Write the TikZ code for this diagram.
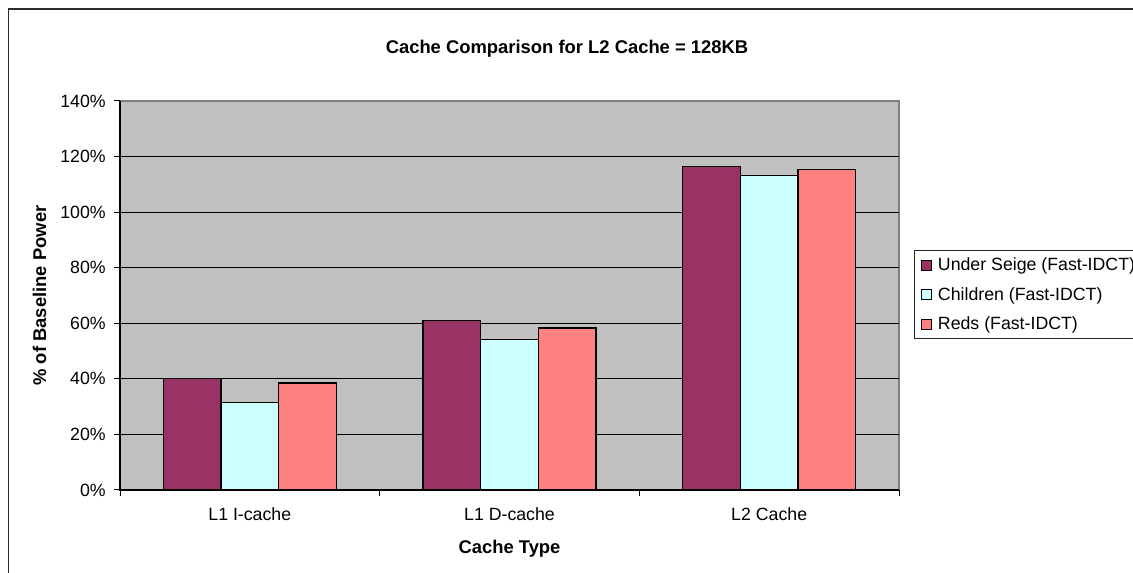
\documentclass[tikz,border=0pt]{standalone}
\usepackage{fontspec}
\setmainfont{Liberation Sans}
\usepackage{tikz}
\usetikzlibrary{positioning}
\definecolor{plotgray}{RGB}{192,192,192}
\definecolor{plotedge}{RGB}{128,128,128}
\definecolor{seigeplum}{RGB}{153,51,102}
\definecolor{childcyan}{RGB}{204,255,255}
\definecolor{redssalmon}{RGB}{255,128,128}
\definecolor{framegray}{RGB}{45,45,45}
\tikzset{
  barbox/.style    = {draw=black, line width=0.9pt},
  gridline/.style  = {draw=black, line width=0.75pt},
  ticklabel/.style = {font=\fontsize{13.3}{15}\selectfont, inner sep=0pt},
  axistitle/.style = {font=\bfseries\fontsize{13.8}{16}\selectfont, inner sep=0pt},
  legendkey/.style = {rectangle, draw=black, line width=0.75pt,
                      minimum size=7.5pt, inner sep=0pt}
}

\begin{document}
\begin{tikzpicture}[x=0.75pt, y=-0.75pt]
\useasboundingbox (0,0) rectangle (1133,573);
\clip (0,0) rectangle (1133,573);

% chart frame
\draw[framegray, line width=1.1pt] (8.5,9) rectangle (1150,590);

% plot area
\fill[plotgray] (120,101) rectangle (899,490);
\draw[plotedge, line width=1.2pt] (120,101) -- (899,101) -- (899,490);
\foreach \p in {20,40,...,120}
  \draw[gridline] (120,{490-\p*2.7786}) -- (899,{490-\p*2.7786});

% bars
\foreach \cat/\va/\vb/\vc in {0/40.1/31.5/38.5, 1/60.9/54.2/58.3, 2/116.3/113.1/115.3} {
  \pgfmathsetmacro{\xs}{120+\cat*259.67+43.28}
  \draw[barbox, fill=seigeplum]  (\xs,490) rectangle ++(57.7,{-\va*2.7786});
  \draw[barbox, fill=childcyan]  ({\xs+57.7},490) rectangle ++(57.7,{-\vb*2.7786});
  \draw[barbox, fill=redssalmon] ({\xs+115.4},490) rectangle ++(57.7,{-\vc*2.7786});
}

% axes
\draw[black, line width=1pt] (120,101) -- (120,490) -- (899,490);
\foreach \p in {0,20,...,140} {
  \draw[black, line width=0.75pt] (114,{490-\p*2.7786}) -- (120,{490-\p*2.7786});
  \node[ticklabel, anchor=east] (yl\p) at (106,{490-\p*2.7786}) {\p\%};
}
\foreach \i in {0,...,3}
  \draw[black, line width=0.75pt] ({120+\i*259.67},490) -- ++(0,6);

\node[ticklabel, anchor=base] (cat1) at (249.8,520.5) {L1 I-cache};
\node[ticklabel, anchor=base] (cat2) at (509.5,520.5) {L1 D-cache};
\node[ticklabel, anchor=base] (cat3) at (769.2,520.5) {L2 Cache};

% titles
\node[axistitle, anchor=base] (title) at (567,53.5) {Cache Comparison for L2 Cache = 128KB};
\node[axistitle, anchor=base] (xtitle) at (509.5,554) {Cache Type};
\node[axistitle, rotate=90] (ytitle) at (39.5,295.5) {\% of Baseline Power};

% legend
\draw[black!85, line width=0.9pt] (914.7,250.7) rectangle (1150,338.7);
\node[legendkey, fill=seigeplum]  (ky1) at (926.7,265.7) {};
\node[legendkey, fill=childcyan]  (ky2) at (926.7,295) {};
\node[legendkey, fill=redssalmon] (ky3) at (926.7,324.3) {};
\node[ticklabel, anchor=base west] (lg1) at (937.7,271) {Under Seige (Fast-IDCT)};
\node[ticklabel, anchor=base west] (lg2) at (937.7,300.3) {Children (Fast-IDCT)};
\node[ticklabel, anchor=base west] (lg3) at (937.7,329.6) {Reds (Fast-IDCT)};
\end{tikzpicture}
\end{document}
